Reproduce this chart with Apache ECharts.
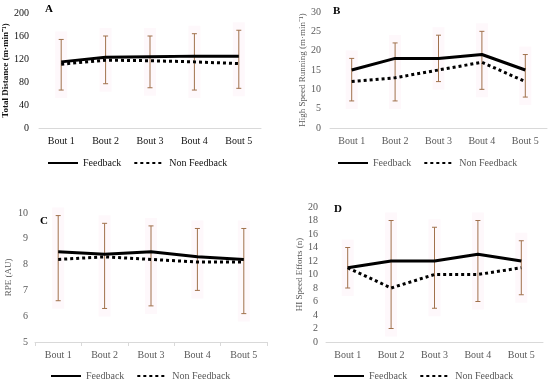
<!DOCTYPE html>
<html>
<head>
<meta charset="utf-8">
<script src="https://cdn.jsdelivr.net/npm/echarts@6/dist/echarts.min.js"></script>
<style>html,body{margin:0;padding:0;background:#fff}#c{width:550px;height:387px}</style>
</head>
<body>
<div id="c"></div>
<script>
// ---- data ----
const categories = ['Bout 1', 'Bout 2', 'Bout 3', 'Bout 4', 'Bout 5'];
const seriesNames = ['Feedback', 'Non Feedback'];

// A: Total distance
const distFeedback = [115, 123, 124, 125, 125];
const distNonFeedback = [111, 118, 117, 115, 112];
const distErrLow = [66, 77, 70, 66, 69];
const distErrHigh = [154, 160, 160, 164, 170];

// B: High speed running
const hsrFeedback = [15, 18, 18, 19, 15];
const hsrNonFeedback = [12, 13, 15, 17, 12];
const hsrErrLow = [7, 7, 12, 10, 8];
const hsrErrHigh = [18, 22, 24, 25, 19];

// C: RPE
const rpeFeedback = [8.5, 8.4, 8.5, 8.3, 8.2];
const rpeNonFeedback = [8.2, 8.3, 8.2, 8.1, 8.1];
const rpeErrLow = [6.6, 6.3, 6.4, 7.0, 6.1];
const rpeErrHigh = [9.9, 9.6, 9.5, 9.4, 9.4];

// D: HI speed efforts
const hiFeedback = [11, 12, 12, 13, 12];
const hiNonFeedback = [11, 8, 10, 10, 11];
const hiErrLow = [8, 2, 5, 6, 7];
const hiErrHigh = [14, 18, 17, 18, 15];

// ---- build ----
const FONT = 'Liberation Serif';
const GRAY = '#595959';
const BROWN = '#a0714c';

const panels = [
  { letter: 'A', grid: {left: 39, top: 13, width: 222, height: 115}, y: {min: 0, max: 200, interval: 40},
    title: 'Total Distance (m·min⁻¹)', titleBold: true, dark: true, nameGap: 23, labelMargin: 10,
    f: distFeedback, n: distNonFeedback, lo: distErrLow, hi: distErrHigh, legend: {left: 47, top: 158}, ticks: false,
    letterPos: [45, 4] },
  { letter: 'B', grid: {left: 330, top: 12, width: 217, height: 116}, y: {min: 0, max: 30, interval: 5},
    title: 'High Speed Running (m·min⁻¹)', titleBold: false, dark: false, nameGap: 22, labelMargin: 9,
    f: hsrFeedback, n: hsrNonFeedback, lo: hsrErrLow, hi: hsrErrHigh, legend: {left: 337, top: 158}, ticks: false,
    letterPos: [333, 6] },
  { letter: 'C', grid: {left: 35, top: 213, width: 232, height: 129}, y: {min: 5, max: 10, interval: 1},
    title: 'RPE (AU)', titleBold: false, dark: false, nameGap: 22, labelMargin: 7,
    f: rpeFeedback, n: rpeNonFeedback, lo: rpeErrLow, hi: rpeErrHigh, legend: {left: 50, top: 371}, ticks: true,
    letterPos: [40, 216] },
  { letter: 'D', grid: {left: 326, top: 207, width: 217, height: 135}, y: {min: 0, max: 20, interval: 2},
    title: 'HI Speed Efforts (n)', titleBold: false, dark: false, nameGap: 22, labelMargin: 8,
    f: hiFeedback, n: hiNonFeedback, lo: hiErrLow, hi: hiErrHigh, legend: {left: 333, top: 371}, ticks: false,
    letterPos: [334, 204] }
];

const option = {
  backgroundColor: '#fff',
  animation: false,
  textStyle: {fontFamily: FONT},
  grid: [], xAxis: [], yAxis: [], series: [], legend: [], graphic: []
};

panels.forEach((p, i) => {
  const txt = p.dark ? '#111' : GRAY;
  option.grid.push(Object.assign({containLabel: false}, p.grid));
  option.xAxis.push({
    type: 'category', gridIndex: i, data: categories,
    axisLine: {lineStyle: {color: '#d9d9d9', width: 1}},
    axisTick: {show: p.ticks, length: 4, lineStyle: {color: '#d9d9d9'}},
    axisLabel: {color: txt, fontFamily: FONT, fontSize: 10, margin: 8}
  });
  option.yAxis.push({
    type: 'value', gridIndex: i, min: p.y.min, max: p.y.max, interval: p.y.interval,
    splitLine: {show: false}, axisLine: {show: false}, axisTick: {show: false},
    axisLabel: {color: txt, fontFamily: FONT, fontSize: 10, margin: p.labelMargin},
    name: p.title, nameLocation: 'middle', nameRotate: 90, nameGap: p.nameGap,
    nameTextStyle: {color: txt, fontFamily: FONT, fontSize: 9, fontWeight: p.titleBold ? 'bold' : 'normal'}
  });
  const errData = categories.map((c, k) => [k, p.lo[k], p.hi[k]]);
  option.series.push({
    type: 'custom', xAxisIndex: i, yAxisIndex: i, z: 1, silent: true,
    data: errData, encode: {x: 0, y: [1, 2]},
    renderItem: (params, api) => {
      const x = api.value(0);
      const lo = api.coord([x, api.value(1)]);
      const hi = api.coord([x, api.value(2)]);
      const cap = 2.5;
      return {
        type: 'group',
        children: [
          {type: 'rect', shape: {x: lo[0] - 6, y: hi[1] - 8, width: 12, height: lo[1] - hi[1] + 16},
           style: {fill: '#fef8fb'}},
          {type: 'line', shape: {x1: lo[0], y1: lo[1], x2: hi[0], y2: hi[1]}, style: {stroke: BROWN, lineWidth: 1}},
          {type: 'line', shape: {x1: lo[0] - cap, y1: lo[1], x2: lo[0] + cap, y2: lo[1]}, style: {stroke: BROWN, lineWidth: 1}},
          {type: 'line', shape: {x1: hi[0] - cap, y1: hi[1], x2: hi[0] + cap, y2: hi[1]}, style: {stroke: BROWN, lineWidth: 1}}
        ]
      };
    }
  });
  option.series.push({
    name: seriesNames[0], type: 'line', xAxisIndex: i, yAxisIndex: i, z: 3,
    data: p.f, symbol: 'none', lineStyle: {color: '#000', width: 3}, itemStyle: {color: '#000'}
  });
  option.series.push({
    name: seriesNames[1], type: 'line', xAxisIndex: i, yAxisIndex: i, z: 2,
    data: p.n, symbol: 'none', lineStyle: {color: '#000', width: 3, type: [3, 3]}, itemStyle: {color: '#000'}
  });
  option.legend.push({
    left: p.legend.left, top: p.legend.top, padding: 0, itemWidth: 30, itemHeight: 10, itemGap: 12,
    data: seriesNames, selectedMode: false,
    itemStyle: {opacity: 0},
    textStyle: {color: txt, fontFamily: FONT, fontSize: 10}
  });
  option.graphic.push({
    type: 'text', left: p.letterPos[0], top: p.letterPos[1],
    style: {text: p.letter, font: 'bold 11px "Liberation Serif"', fill: '#000'}
  });
});

const chart = echarts.init(document.getElementById('c'), null, {renderer: 'canvas'});
chart.setOption(option);
</script>
</body>
</html>
